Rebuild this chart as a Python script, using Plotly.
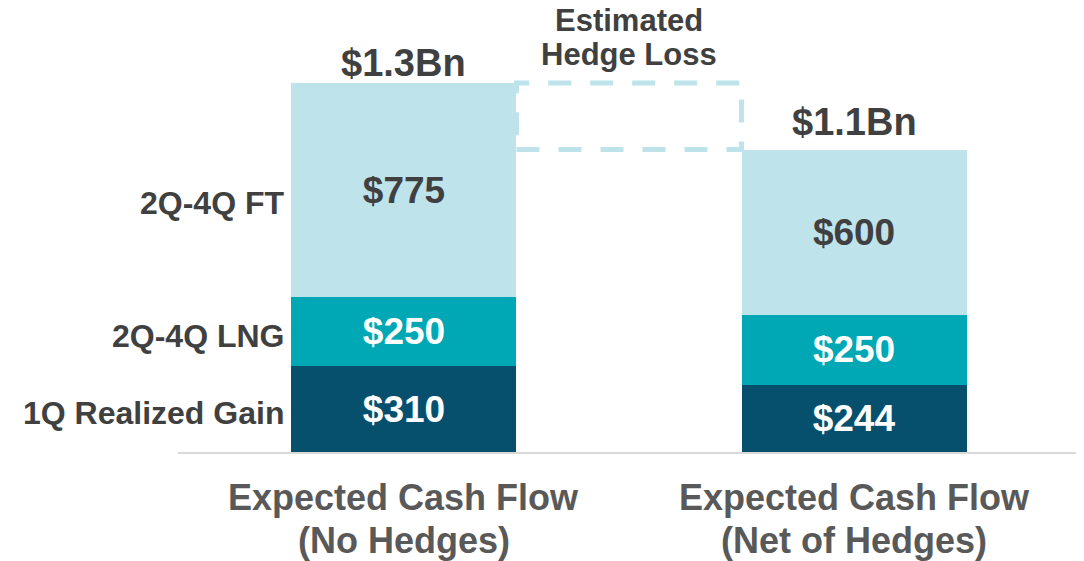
import plotly.graph_objects as go

# data ($MM)
categories = ["Expected Cash Flow<br>(No Hedges)", "Expected Cash Flow<br>(Net of Hedges)"]
segments = ["1Q Realized Gain", "2Q-4Q LNG", "2Q-4Q FT"]
realized_gain = [310, 244]
lng = [250, 250]
ft = [775, 600]
totals_text = ["$1.3Bn", "$1.1Bn"]
hedge_label = "Estimated<br>Hedge Loss"

colors = ["#06506E", "#00A8B5", "#BEE3EA"]
text_colors = ["white", "white", "#404040"]
FONT = "Liberation Sans, Arial, sans-serif"

x = [0, 1]
fig = go.Figure()
for name, vals, col, tcol in zip(segments, [realized_gain, lng, ft], colors, text_colors):
    fig.add_trace(go.Bar(
        x=x, y=vals, name=name, width=0.5,
        marker=dict(color=col, line=dict(width=0)),
        text=[f"${v}" for v in vals], textposition="inside",
        insidetextanchor="middle", textangle=0,
        textfont=dict(family=FONT, size=37, color=tcol, weight="bold"),
    ))

totals = [a + b + c for a, b, c in zip(realized_gain, lng, ft)]

# segment labels on the left of the first bar
seg_mid = [realized_gain[0] / 2, realized_gain[0] + lng[0] / 2, realized_gain[0] + lng[0] + ft[0] * 0.46]
for name, ym in zip(segments, seg_mid):
    fig.add_annotation(x=-0.25, y=ym, text=name, showarrow=False, xanchor="right",
                       xshift=-5, yshift=-4,
                       font=dict(family=FONT, size=32, color="#404040", weight="bold"))

# totals above bars
for xi, t, tt, ys in zip(x, totals, totals_text, [20, 28]):
    fig.add_annotation(x=xi, y=t, text=tt, showarrow=False, yanchor="middle", yshift=ys,
                       font=dict(family=FONT, size=38, color="#404040", weight="bold"))

# hedge loss dashed box
fig.add_shape(type="rect", x0=0.25, x1=0.75, y0=totals[1], y1=totals[0],
              line=dict(color="#BEE3EA", width=5, dash="23px,19px"), layer="above")
for line, ys in zip(hedge_label.split("<br>"), [62, 28]):
    fig.add_annotation(x=0.5, y=totals[0], text=line, showarrow=False, yanchor="middle",
                       yshift=ys, font=dict(family=FONT, size=31, color="#404040", weight="bold"))

# category labels under the axis
for xi, cat in zip(x, categories):
    for line, ys in zip(cat.split("<br>"), [-45, -88]):
        fig.add_annotation(x=xi, y=0, text=line, showarrow=False, yanchor="middle", yshift=ys,
                           font=dict(family=FONT, size=36, color="#595959", weight="bold"))

fig.update_layout(
    barmode="stack", width=1076, height=553, showlegend=False,
    margin=dict(l=170, r=4, t=0, b=109),
    plot_bgcolor="white", paper_bgcolor="white",
    xaxis=dict(range=[-0.502, 1.502], tickvals=x, ticktext=["", ""], automargin=False,
               showline=True, linecolor="#d9d9d9", linewidth=2, showgrid=False,
               zeroline=False, ticks=""),
    yaxis=dict(range=[0, 1606], visible=False, automargin=False),
)

fig.write_html("out.html")
